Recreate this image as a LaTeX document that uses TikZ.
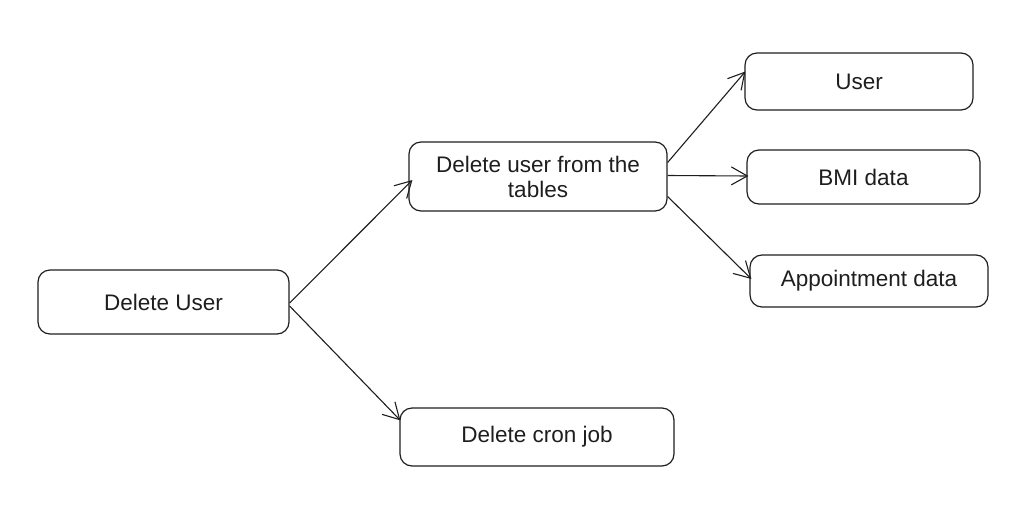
\documentclass[tikz,border=0pt]{standalone}
\usepackage{fontspec}
\setmainfont{Liberation Sans}
\usetikzlibrary{arrows.meta}
\definecolor{ink}{HTML}{1E1E1E}
\tikzset{
  box/.style={draw=ink, line width=1.2pt, rounded corners=12pt, align=center,
    font=\fontsize{22.5}{25}\selectfont, text=ink, inner sep=0pt},
  conn/.style={draw=ink, line width=1.1pt, -{Straight Barb[length=16pt,width=18pt,line width=1.1pt]}}
}
\begin{document}
\begin{tikzpicture}[x=1pt,y=-1pt]
\useasboundingbox (0,0) rectangle (1016,517);
\node[box, minimum width=251pt, minimum height=64pt] (du) at (163.5,302) {Delete User};
\node[box, minimum width=258pt, minimum height=69pt] (dt) at (538,176.5) {Delete user from the\\tables};
\node[box, minimum width=274pt, minimum height=58pt] (dc) at (537,437) {Delete cron job};
\node[box, minimum width=228pt, minimum height=57pt] (us) at (859,81.5) {User};
\node[box, minimum width=233pt, minimum height=54pt] (bmi) at (863.5,177) {BMI data};
\node[box, minimum width=238pt, minimum height=52pt] (ap) at (869,281) {Appointment data};
\draw[conn] ([yshift=-1pt]du.east) -- ([xshift=4pt,yshift=-3.5pt]dt.west);
\draw[conn] ([yshift=-4pt]du.east) -- ([xshift=1pt,yshift=-13pt]dc.north west);
\draw[conn] ([yshift=14pt]dt.east) -- ([xshift=1pt,yshift=10pt]us.west);
\draw[conn] ([yshift=1pt]dt.east) -- ([xshift=2pt,yshift=1pt]bmi.west);
\draw[conn] ([yshift=-20pt]dt.east) -- ([xshift=2pt,yshift=2pt]ap.west);
\end{tikzpicture}
\end{document}
